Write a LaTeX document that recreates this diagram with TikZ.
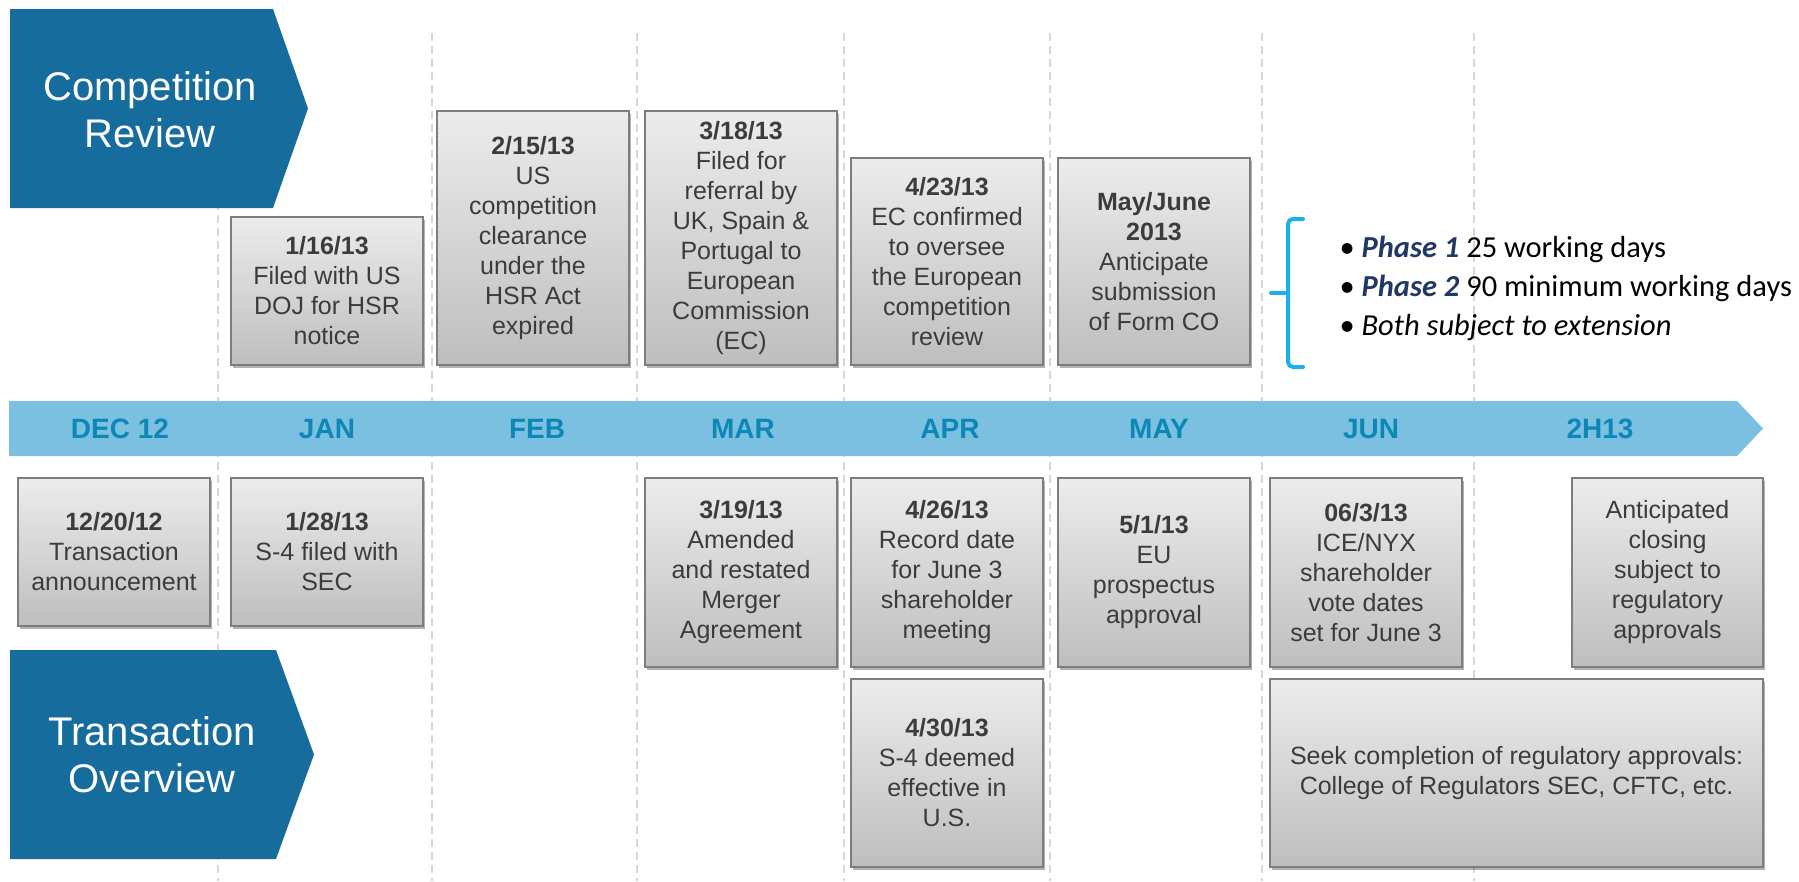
\documentclass[tikz,border=0pt]{standalone}
\usepackage{fontspec}
\setmainfont{Liberation Sans}
\newfontfamily\calibri{Carlito}
\usetikzlibrary{shadows}

\definecolor{banner}{RGB}{23,108,158}
\definecolor{band}{RGB}{123,192,224}
\definecolor{monthtext}{RGB}{12,135,182}
\definecolor{boxtop}{RGB}{236,236,236}
\definecolor{boxbot}{RGB}{190,190,190}
\definecolor{boxline}{RGB}{125,125,125}
\definecolor{boxtext}{RGB}{60,60,60}
\definecolor{gridline}{RGB}{214,214,214}
\definecolor{bracketblue}{RGB}{27,176,232}
\definecolor{phase}{RGB}{31,56,100}

\begin{document}
\begin{tikzpicture}[x=1pt,y=-1pt,
  gridln/.style={draw=gridline, line width=2pt, dash pattern=on 8pt off 5pt},
  evbox/.style={draw=boxline, line width=1.6pt, top color=boxtop, bottom color=boxbot,
    minimum width=192pt, inner sep=0pt, align=center, text=boxtext,
    font={\fontsize{25}{30}\selectfont},
    drop shadow={shadow xshift=2pt, shadow yshift=-3pt, opacity=0.3, fill=black}},
  bannertext/.style={text=white, align=center, font={\fontsize{40}{47}\selectfont}},
  month/.style={text=monthtext, font={\fontsize{28}{30}\selectfont\bfseries}},
]
\useasboundingbox (0,0) rectangle (1799,881);

% month separators
\foreach \gx in {218,432,637,844,1050,1262,1474}
  \draw[gridln] (\gx,33) -- (\gx,881);

% section banners
\fill[banner] (10,9) -- (273,9) -- (308,108.5) -- (273,208) -- (10,208) -- cycle;
\node[bannertext] (compreview) at (150,110) {Competition\\Review};
\fill[banner] (10,650) -- (276,650) -- (314,754.5) -- (276,859) -- (10,859) -- cycle;
\node[bannertext] (transover) at (152,755) {Transaction\\Overview};

% timeline band
\fill[band] (9,401) -- (1737,401) -- (1763,428.5) -- (1737,456) -- (9,456) -- cycle;
\node[month] (mdec) at (120,428.5) {DEC 12};
\node[month] (mjan) at (327,428.5) {JAN};
\node[month] (mfeb) at (537,428.5) {FEB};
\node[month] (mmar) at (743,428.5) {MAR};
\node[month] (mapr) at (950,428.5) {APR};
\node[month] (mmay) at (1159,428.5) {MAY};
\node[month] (mjun) at (1371,428.5) {JUN};
\node[month] (mh2) at (1600,428.5) {2H13};

% competition review events
\node[evbox, minimum height=148pt] (e0116) at (327,291)
  {{\bfseries 1/16/13}\\Filed with US\\DOJ for HSR\\notice};
\node[evbox, minimum height=254pt] (e0215) at (533,238)
  {{\bfseries 2/15/13}\\US\\competition\\clearance\\under the\\HSR Act\\expired};
\node[evbox, minimum height=254pt] (e0318) at (741,238)
  {{\bfseries 3/18/13}\\Filed for\\referral by\\UK, Spain \&\\Portugal to\\European\\Commission\\(EC)};
\node[evbox, minimum height=207pt] (e0423) at (947,261.5)
  {{\bfseries 4/23/13}\\EC confirmed\\to oversee\\the European\\competition\\review};
\node[evbox, minimum height=207pt] (emayjun) at (1154,261.5)
  {{\bfseries May/June}\\{\bfseries 2013}\\Anticipate\\submission\\of Form CO};

% phase bracket and notes
\draw[bracketblue, line width=4pt, line cap=round, rounded corners=5pt]
  (1303,219) -- (1288,219) -- (1288,367) -- (1303,367);
\draw[bracketblue, line width=4pt, line cap=round] (1288,293) -- (1271,293);
\node[anchor=west, align=left, font={\calibri\fontsize{30.5}{39}\selectfont}] (phasenotes) at (1336,288)
  {• {\color{phase}\bfseries\itshape Phase 1} 25 working days\\
   • {\color{phase}\bfseries\itshape Phase 2} 90 minimum working days\\
   • {\itshape Both subject to extension}};

% transaction events
\node[evbox, minimum height=148pt] (e1220) at (114,552)
  {{\bfseries 12/20/12}\\Transaction\\announcement};
\node[evbox, minimum height=148pt] (e0128) at (327,552)
  {{\bfseries 1/28/13}\\S-4 filed with\\SEC};
\node[evbox, minimum height=189pt] (e0319) at (741,572.5)
  {{\bfseries 3/19/13}\\Amended\\and restated\\Merger\\Agreement};
\node[evbox, minimum height=189pt] (e0426) at (947,572.5)
  {{\bfseries 4/26/13}\\Record date\\for June 3\\shareholder\\meeting};
\node[evbox, minimum height=189pt] (e0501) at (1154,572.5)
  {{\bfseries 5/1/13}\\EU\\prospectus\\approval};
\node[evbox, minimum height=189pt] (e0603) at (1366,572.5)
  {{\bfseries 06/3/13}\\ICE/NYX\\shareholder\\vote dates\\set for June 3};
\node[evbox, minimum height=189pt, minimum width=191pt] (eclose) at (1667.5,572.5)
  {Anticipated\\closing\\subject to\\regulatory\\approvals};
\node[evbox, minimum height=188pt] (e0430) at (947,773)
  {{\bfseries 4/30/13}\\S-4 deemed\\effective in\\U.S.};
\node[evbox, minimum height=188pt, minimum width=493pt] (eseek) at (1516.5,773)
  {Seek completion of regulatory approvals:\\College of Regulators SEC, CFTC, etc.};
\end{tikzpicture}
\end{document}
